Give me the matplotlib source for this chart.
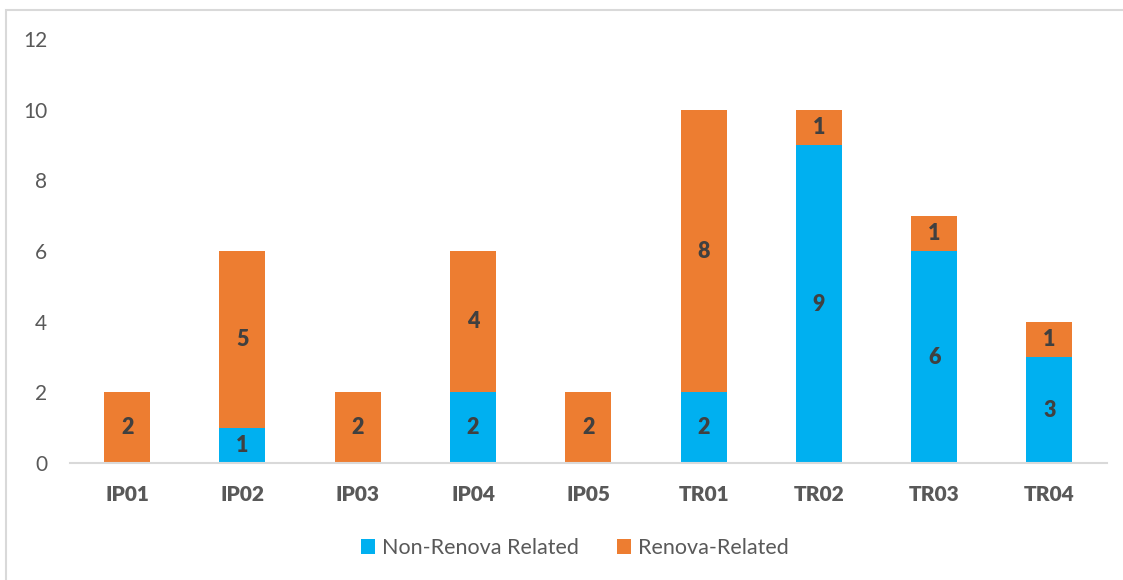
import numpy as np
import matplotlib as mpl
mpl.use('Agg')
import matplotlib.pyplot as plt
from matplotlib.patches import Rectangle

categories = ['IP01', 'IP02', 'IP03', 'IP04', 'IP05', 'TR01', 'TR02', 'TR03', 'TR04']
nonRenova = [0, 1, 0, 2, 0, 2, 9, 6, 3]
renova = [2, 5, 2, 4, 2, 8, 1, 1, 1]

blue = '#00B0F0'
orange = '#ED7D31'
textGray = '#595959'
labelGray = '#404040'

plt.rcParams['font.family'] = ['Lato', 'DejaVu Sans']

fig = plt.figure(figsize=(11.23, 5.80), dpi=100)
ax = fig.add_axes([0.0619, 0.2017, 0.9239, 0.7310])

x = np.arange(len(categories))
width = 0.4
b1 = ax.bar(x, nonRenova, width, color=blue, label='Non-Renova Related')
b2 = ax.bar(x, renova, width, bottom=nonRenova, color=orange, label='Renova-Related')

# value labels, skip zero segments
for bars, vals in ((b1, nonRenova), (b2, renova)):
    for rect, v in zip(bars, vals):
        if v == 0:
            continue
        ax.text(rect.get_x() + rect.get_width() / 2,
                rect.get_y() + rect.get_height() / 2, str(v),
                ha='center', va='center', fontsize=15.5, fontweight='heavy',
                color=labelGray)

ax.set_xlim(-0.5, len(categories) - 0.5)
ax.set_ylim(0, 12)
ax.set_yticks(range(0, 13, 2))
ax.set_xticks(x)
ax.set_xticklabels(categories, fontsize=15, fontweight='heavy', color=textGray)
ax.tick_params(axis='y', labelsize=15, labelcolor=textGray, length=0, pad=16)
ax.tick_params(axis='x', length=0, pad=16)

for side in ('top', 'right', 'left'):
    ax.spines[side].set_visible(False)
ax.spines['bottom'].set_color('#D9D9D9')
ax.spines['bottom'].set_linewidth(1.5)

leg = fig.legend(loc='center', bbox_to_anchor=(0.512, 0.055), ncol=2, frameon=False,
                 fontsize=15.5, handlelength=0.65, handleheight=0.65,
                 handletextpad=0.3, columnspacing=1.8)
for t in leg.get_texts():
    t.set_color(textGray)

# light frame around the chart area
fig.patches.append(Rectangle((6 / 1123, -0.05), 1.2, 1.05 - 10 / 580,
                             transform=fig.transFigure, fill=False,
                             edgecolor='#D9D9D9', linewidth=1.5))

fig.savefig('out.png', dpi=100)
